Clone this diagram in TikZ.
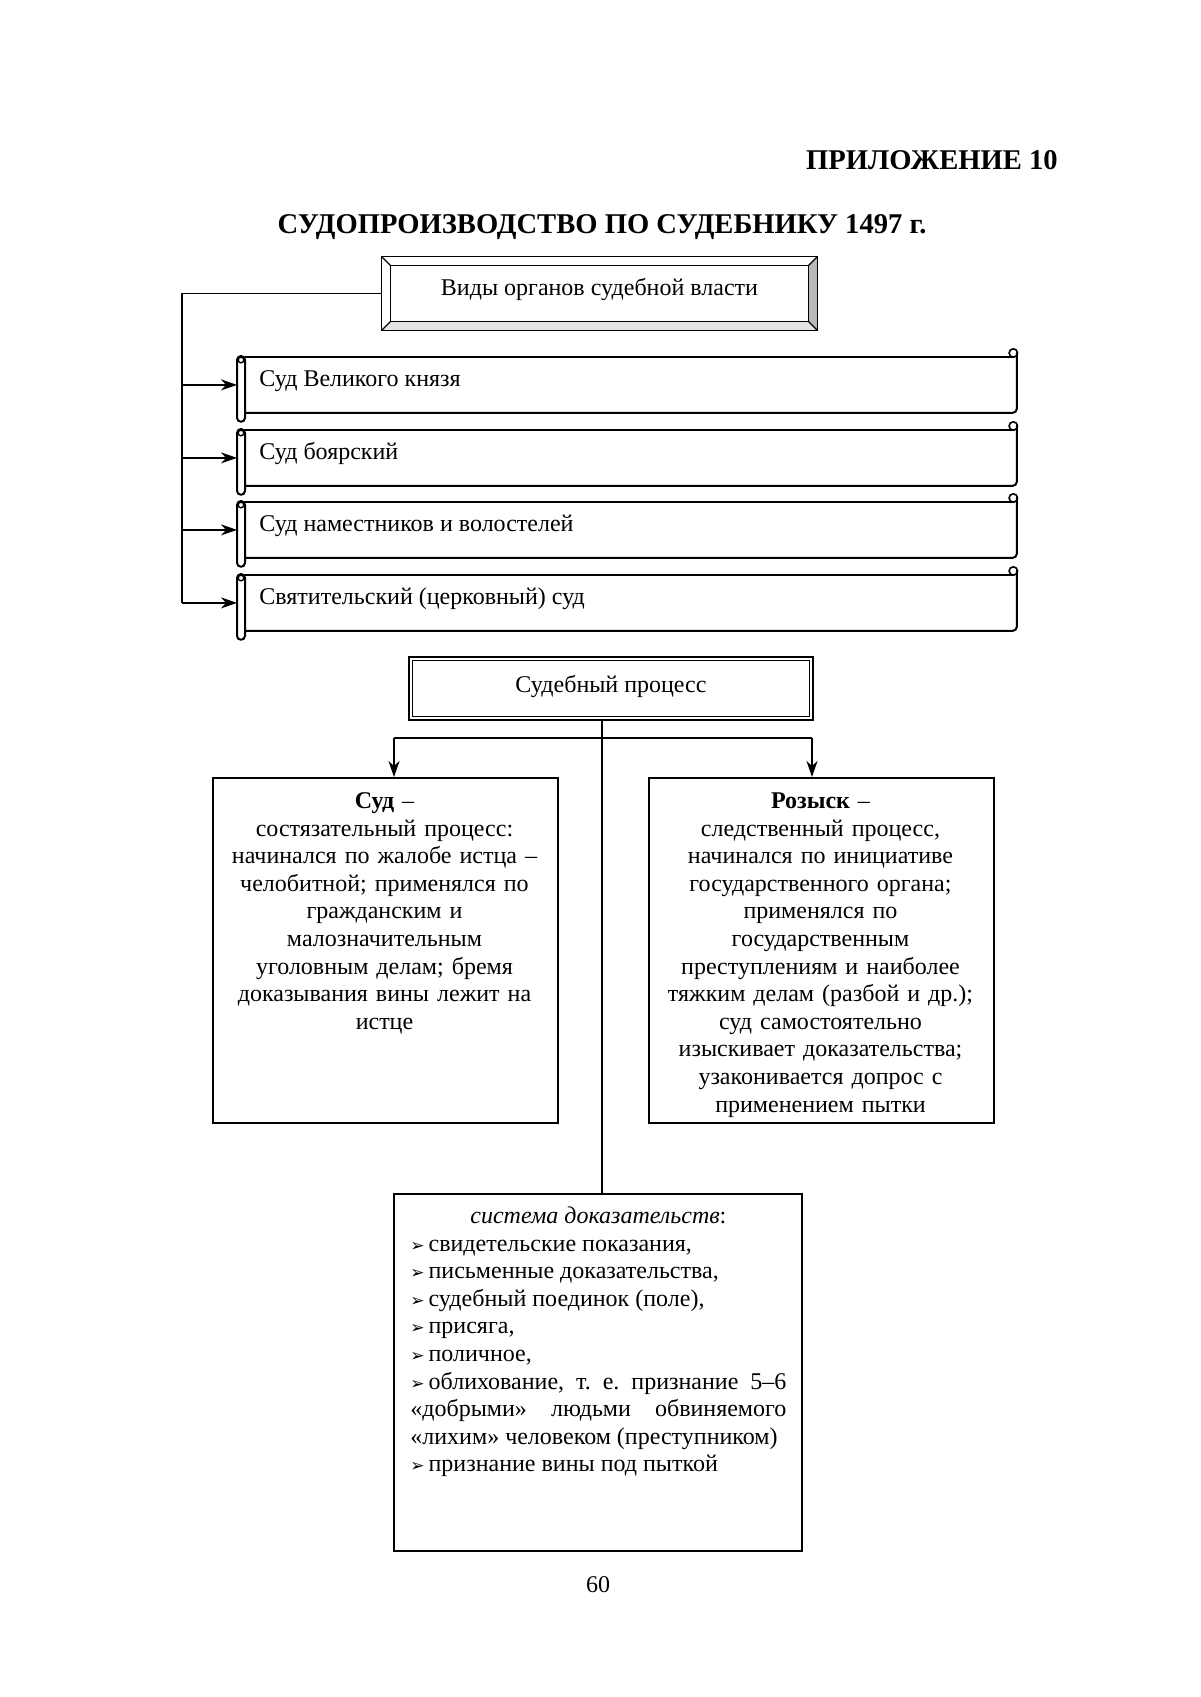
\documentclass[tikz,border=0pt]{standalone}
\usepackage{fontspec}
\setmainfont{Liberation Serif}
\newfontfamily\dejavu{DejaVu Sans}
\usetikzlibrary{arrows.meta,calc}
\newcommand\evbul{{\dejavu\fontsize{8.5}{8}\selectfont ➢}\hspace{2pt}}
\begin{document}
\begin{tikzpicture}[x=0.5pt,y=-0.5pt,
  body/.style={font=\fontsize{12}{13.8}\selectfont\frenchspacing, inner sep=0pt},
  ttl/.style={font=\fontsize{14.3}{16}\selectfont\bfseries, inner sep=0pt},
  frame/.style={draw, line width=0.8pt, inner sep=0pt},
  conn/.style={line width=0.7pt},
  arr/.style={conn, -{Stealth[length=8pt,width=5.5pt,inset=2.5pt]}},
  scrl/.style={line width=1pt, line join=round, line cap=round},
  lbl/.style={body, anchor=base west},
]
\useasboundingbox (0,0) rectangle (1200,1697);

% titles
\node[ttl, anchor=base east] (app) at (1058,169) {ПРИЛОЖЕНИЕ 10};
\node[ttl, anchor=base] (title) at (602,233) {СУДОПРОИЗВОДСТВО ПО СУДЕБНИКУ 1497 г.};

% bevelled box
\node[minimum width=217.5pt, minimum height=36.5pt, inner sep=0pt] (vidy) at (599.5,293.5) {};
\fill[gray!55] (vidy.north east) -- (vidy.south east) -- ($(vidy.south east)+(-9,-9)$) -- ($(vidy.north east)+(-9,9)$) -- cycle;
\fill[gray!22] (vidy.south west) -- (vidy.south east) -- ($(vidy.south east)+(-9,-9)$) -- ($(vidy.south west)+(9,-9)$) -- cycle;
\draw[line width=0.8pt] (vidy.north west) rectangle (vidy.south east);
\draw[line width=0.8pt] ($(vidy.north west)+(9,9)$) rectangle ($(vidy.south east)+(-9,-9)$);
\draw[line width=0.6pt] (vidy.north west) -- ++(9,9) (vidy.north east) -- ++(-9,9)
  (vidy.south west) -- ++(9,-9) (vidy.south east) -- ++(-9,-9);
\node[body, anchor=base] (vidyt) at (599.5,295) {Виды органов судебной власти};

% scrolls
\foreach \i/\t/\txt in {1/357/Суд Великого князя, 2/430/Суд боярский,
  3/502/Суд наместников и волостелей, 4/575/Святительский (церковный) суд}{
  \node[minimum width=389.5pt, minimum height=27.5pt, inner sep=0pt, anchor=north west] (s\i) at (237,\t) {};
  \draw[scrl, rounded corners=2pt] ($(s\i.north west)+(0,-1)$) rectangle ($(s\i.south west)+(8,9)$);
  \draw[line width=0.7pt] ($(s\i.north west)+(4,3)$) circle[radius=1.4pt];
  \draw[scrl] ($(s\i.north west)+(8,0)$) -- ($(s\i.north east)+(-3,0)$);
  \draw[scrl, rounded corners=2pt] ($(s\i.north east)+(0,-4)$) -- (s\i.south east) -- ($(s\i.south west)+(8,0)$);
  \draw[line width=0.8pt] ($(s\i.north east)+(-3.5,-4)$) circle[radius=2.1pt];
  \node[lbl] (t\i) at ($(s\i.north west)+(22,29.5)$) {\txt};
}

% connectors to scrolls
\coordinate (tb) at ($(s4.west)+(-55,0)$);
\draw[conn] (vidy.west) -| (tb);
\foreach \i in {1,...,4}{\draw[arr] (s\i.west -| tb) -- (s\i.west);}

% judicial process box
\node[minimum width=202pt, minimum height=31.5pt, inner sep=0pt] (sp) at (611,688.5) {};
\draw[line width=1pt] (sp.north west) rectangle (sp.south east);
\draw[line width=0.6pt] ($(sp.north west)+(4,4)$) rectangle ($(sp.south east)+(-4,-4)$);
\node[body, anchor=base] (spt) at (611,692) {Судебный процесс};

% lower boxes
\node[frame, minimum width=172.5pt, minimum height=172.5pt, anchor=north west] (sud) at (212,777) {};
\node[frame, minimum width=172.5pt, minimum height=172.5pt, anchor=north west] (roz) at (648,777) {};
\node[frame, minimum width=204pt, minimum height=178.5pt, anchor=north west] (ev) at (393,1193) {};

\coordinate (spb) at ($(sp.south)+(-9,0)$);
\coordinate (la) at (394,738);
\coordinate (ra) at (812,738);
\draw[conn] (la) -- (ra);
\draw[arr] (la) -- (la |- sud.north);
\draw[arr] (ra) -- (ra |- roz.north);
\draw[conn] (spb) -- (spb |- ev.north);

\node[body, anchor=north, text width=168pt, align=center] (sudt) at (384.5,788.7) {\strut\textbf{Суд} –\\
состязательный процесс:\\
начинался по жалобе истца –\\
челобитной; применялся по\\
гражданским и\\
малозначительным\\
уголовным делам; бремя\\
доказывания вины лежит на\\
истце};

\node[body, anchor=north, text width=168pt, align=center] (rozt) at (820.5,788.7) {\strut\textbf{Розыск} –\\
следственный процесс,\\
начинался по инициативе\\
государственного органа;\\
применялся по\\
государственным\\
преступлениям и наиболее\\
тяжким делам (разбой и др.);\\
суд самостоятельно\\
изыскивает доказательства;\\
узаконивается допрос с\\
применением пытки};

\node[body, anchor=north west, text width=188pt, align=justify] (evt) at (410,1203.7) {%
\setlength{\parindent}{0pt}\setlength{\parskip}{0pt}%
\makebox[\linewidth]{\strut\textit{система доказательств}:}\par
\evbul свидетельские показания,\par
\evbul письменные доказательства,\par
\evbul судебный поединок (поле),\par
\evbul присяга,\par
\evbul поличное,\par
\evbul облихование, т. е. признание 5–6\linebreak
«добрыми» людьми обвиняемого\linebreak
«лихим» человеком (преступником)\par
\evbul признание вины под пыткой\par};

\node[body, anchor=base] (pg) at (598,1592) {60};
\end{tikzpicture}
\end{document}
